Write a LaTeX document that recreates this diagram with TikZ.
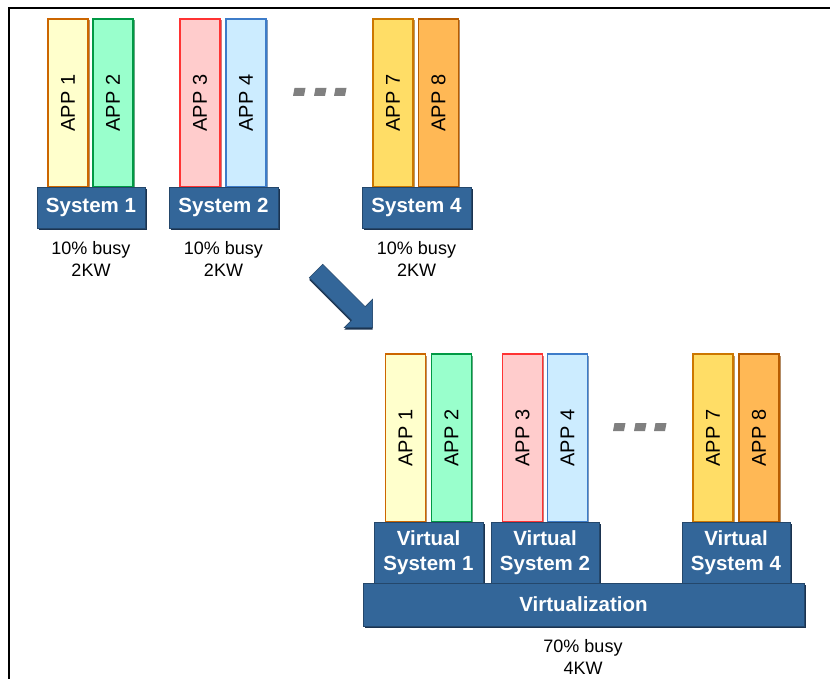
\documentclass[tikz,border=0pt]{standalone}
\usepackage{fontspec}
\setmainfont{Liberation Sans}
\usetikzlibrary{shadows}
\definecolor{sysblue}{HTML}{336699}
\definecolor{sysedge}{HTML}{24476B}
\definecolor{sysshadow}{HTML}{1B3350}
\definecolor{f1}{HTML}{FFFFCC}\definecolor{e1}{HTML}{CC6600}
\definecolor{f2}{HTML}{99FFCC}\definecolor{e2}{HTML}{009944}
\definecolor{f3}{HTML}{FFCCCC}\definecolor{e3}{HTML}{FF3333}
\definecolor{f4}{HTML}{CCECFF}\definecolor{e4}{HTML}{3D7CC9}
\definecolor{f7}{HTML}{FFDD66}\definecolor{e7}{HTML}{CC7700}
\definecolor{f8}{HTML}{FFB855}\definecolor{e8}{HTML}{B85C00}
\definecolor{dotgray}{HTML}{808080}
\tikzset{
  appbox/.style={rectangle, minimum width=40pt, minimum height=168pt, inner sep=0pt,
    line width=1.6pt, font=\fontsize{20}{22}\selectfont,
    drop shadow={shadow xshift=1.5pt, shadow yshift=-1.5pt, opacity=0.6, fill=#1!70!black}, draw=#1},
  sysbox/.style={rectangle, fill=sysblue, draw=sysedge, line width=0.8pt, inner sep=0pt,
    text=white, font=\bfseries\fontsize{20.5}{25}\selectfont, align=center,
    drop shadow={shadow xshift=2pt, shadow yshift=-2pt, opacity=1, fill=sysshadow}},
  loadtext/.style={font=\fontsize{18}{22}\selectfont, align=center, inner sep=0pt},
  dotbar/.style={fill=dotgray},
}
\newcommand{\applabel}[1]{\rotatebox{90}{#1}}
\begin{document}
\begin{tikzpicture}[x=1pt,y=-1pt]
\useasboundingbox (0,0) rectangle (830,679);
\fill[white] (0,0) rectangle (830,679);
% frame
\draw[line width=1.5pt] (9,679) -- (9,8) -- (830,8);

% ---------- top row ----------
\node[appbox=e1, fill=f1] (a1) at (68,103) {\applabel{APP 1}};
\node[appbox=e2, fill=f2] (a2) at (113,103) {\applabel{APP 2}};
\node[appbox=e3, fill=f3] (a3) at (200,103) {\applabel{APP 3}};
\node[appbox=e4, fill=f4] (a4) at (246,103) {\applabel{APP 4}};
\node[appbox=e7, fill=f7] (a7) at (393,103) {\applabel{APP 7}};
\node[appbox=e8, fill=f8] (a8) at (438.5,103) {\applabel{APP 8}};

\node[sysbox, minimum width=108pt, minimum height=41pt] (s1) at (91,207.5) {System 1};
\node[sysbox, minimum width=109pt, minimum height=41pt] (s2) at (223.5,207.5) {System 2};
\node[sysbox, minimum width=109pt, minimum height=41pt] (s4) at (416.5,207.5) {System 4};

\node[loadtext] (l1) at (91,259) {10\% busy\\2KW};
\node[loadtext] (l2) at (223.5,259) {10\% busy\\2KW};
\node[loadtext] (l4) at (416.5,259) {10\% busy\\2KW};

% dots top
\foreach \x in {293,314,334} {
  \fill[dotgray] (\x+1.5,88) -- (\x+12.5,88) -- (\x+11,96) -- (\x,96) -- cycle;
}

% ---------- arrow ----------
\coordinate (arrowtail) at (316,271);
\coordinate (arrowtip) at (372.6,327.6);
\begin{scope}[shift={(arrowtail)}, rotate=-45]
  \fill[sysshadow] (1.5,-8) -- (61.5,-8) -- (61.5,-18.5) -- (81.5,1.5) -- (61.5,21.5) -- (61.5,11) -- (1.5,11) -- cycle;
  \fill[sysblue, draw=sysedge, line width=0.6pt] (0,-9.5) -- (60,-9.5) -- (60,-20) -- (80,0) -- (60,20) -- (60,9.5) -- (0,9.5) -- cycle;
\end{scope}

% ---------- bottom row ----------
\node[appbox=e1, fill=f1] (b1) at (405.5,438) {\applabel{APP 1}};
\node[appbox=e2, fill=f2] (b2) at (451.5,438) {\applabel{APP 2}};
\node[appbox=e3, fill=f3] (b3) at (522.5,438) {\applabel{APP 3}};
\node[appbox=e4, fill=f4] (b4) at (567.5,438) {\applabel{APP 4}};
\node[appbox=e7, fill=f7] (b7) at (713,438) {\applabel{APP 7}};
\node[appbox=e8, fill=f8] (b8) at (759,438) {\applabel{APP 8}};

\node[sysbox, minimum width=109pt, minimum height=61pt] (v1) at (428.5,552.5) {Virtual\\System 1};
\node[sysbox, minimum width=108pt, minimum height=61pt] (v2) at (545,552.5) {Virtual\\System 2};
\node[sysbox, minimum width=108pt, minimum height=61pt] (v4) at (736,552.5) {Virtual\\System 4};
\node[sysbox, minimum width=441pt, minimum height=43pt] (virt) at (583.5,604.5) {Virtualization};

\node[loadtext] (lv) at (583,657) {70\% busy\\4KW};

% dots bottom
\foreach \x in {613,634,654} {
  \fill[dotgray] (\x+1.5,423) -- (\x+12.5,423) -- (\x+11,431) -- (\x,431) -- cycle;
}
\end{tikzpicture}
\end{document}
